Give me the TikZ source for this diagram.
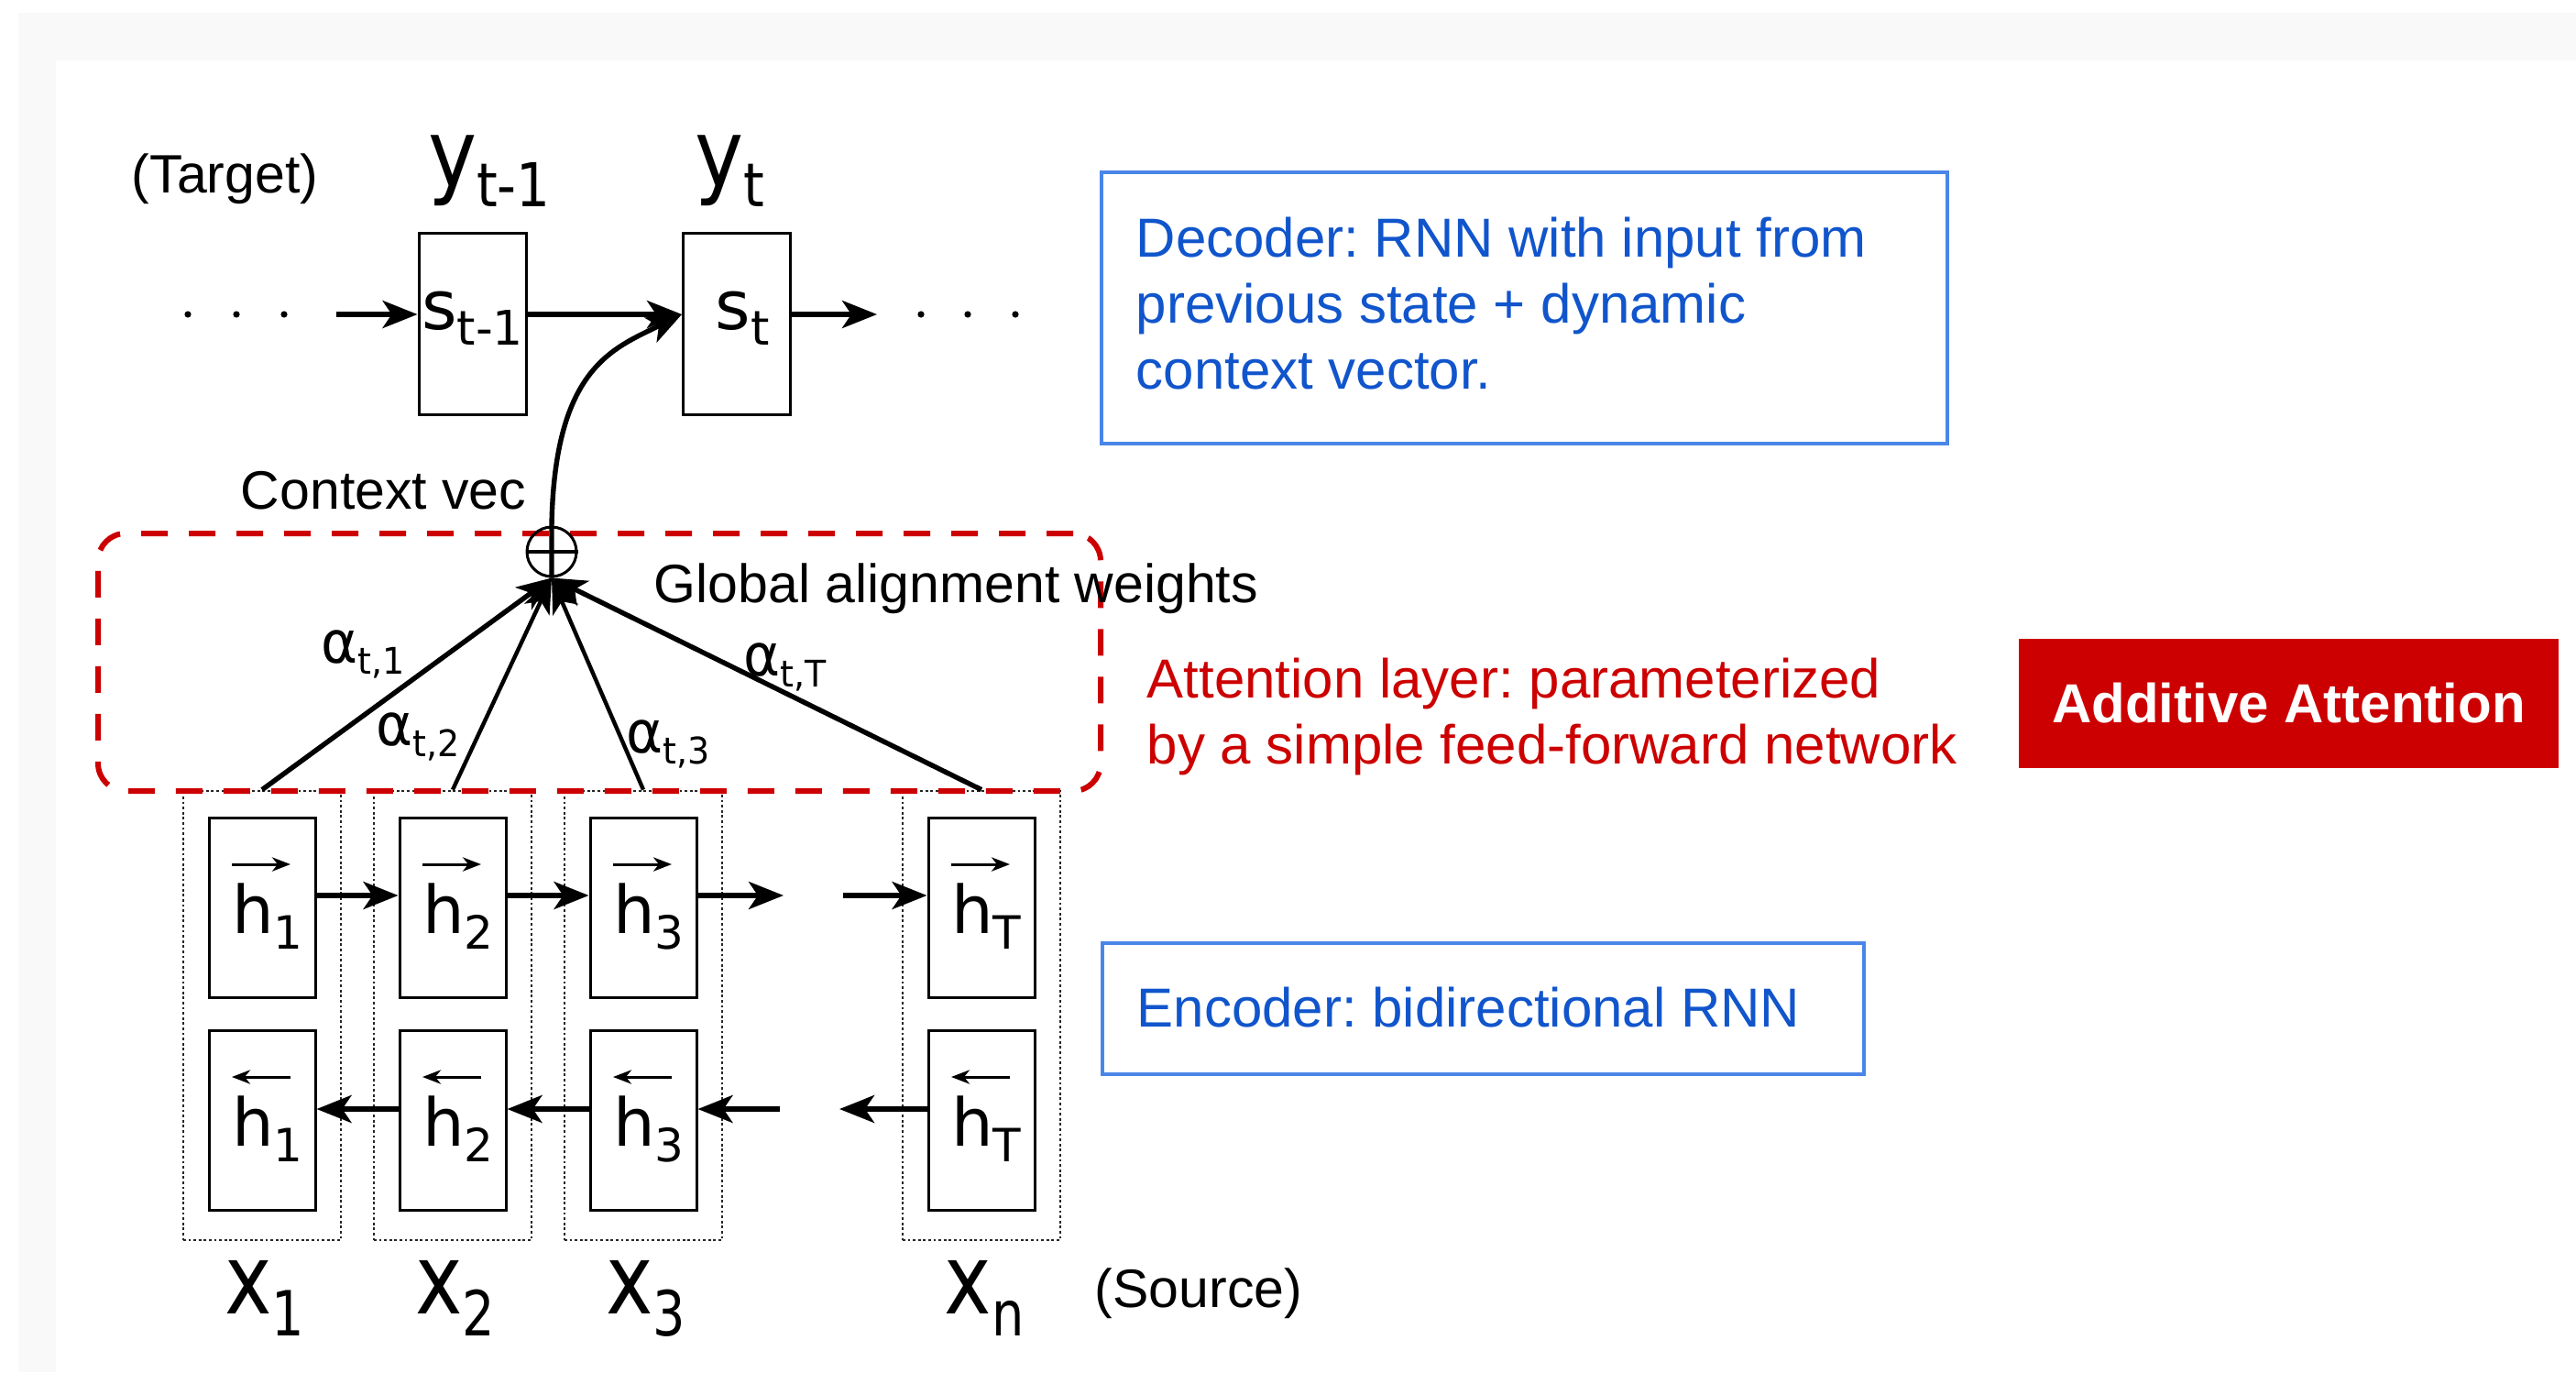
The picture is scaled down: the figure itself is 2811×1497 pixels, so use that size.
\documentclass[tikz,border=0pt]{standalone}
\usepackage{fontspec}
\usepackage{graphicx}
\setmainfont{Liberation Sans}
\newfontfamily\figfont{DejaVu Sans}
\usetikzlibrary{arrows.meta,calc}
\frenchspacing

\definecolor{pagegray}{RGB}{249,249,249}
\definecolor{noteblue}{RGB}{17,85,204}
\definecolor{boxblue}{RGB}{74,134,232}
\definecolor{attnred}{RGB}{204,0,0}

% symbol with a lowered subscript: [x-scale] size, sub size, drop, symbol, subscript
\newcommand{\glab}[6][1]{\scalebox{#1}[1]{\figfont\fontsize{#2}{#2}\selectfont #5\raisebox{-#4}{\fontsize{#3}{#3}\selectfont #6}}}

\begin{document}
\begin{tikzpicture}[x=0.25pt,y=-0.25pt,
  cell/.style={draw, line width=0.75pt, minimum width=29pt, minimum height=49pt, inner sep=0},
  column/.style={draw=black!85, line width=0.7pt, dash pattern=on 0.7pt off 0.7pt,
                 minimum width=43pt, minimum height=122.5pt, inner sep=0},
  arr/.style={line width=1.35pt, -{Stealth[length=9.5pt,width=7.5pt,inset=2.5pt]}},
  vecarr/.style={line width=0.75pt, -{Stealth[length=5pt,width=3.8pt,inset=1.5pt]}},
  lbl/.style={inner sep=0, font=\fontsize{14.75pt}{17pt}\selectfont},
  note/.style={inner sep=0, align=left, font=\fontsize{15pt}{18pt}\selectfont},
  notebox/.style={draw=boxblue, line width=0.8pt, inner sep=0},
  attnbox/.style={draw=attnred, line width=1.5pt, dash pattern=on 7.25pt off 5.75pt,
                  rounded corners=7.5pt, inner sep=0}
]
% page frame
\useasboundingbox (0,0) rectangle (2811,1497);
\fill[white] (0,0) rectangle (2811,1497);
\fill[pagegray] (20,14) rectangle (2811,1497);
\fill[white] (61,66) rectangle (2811,1497);

% row levels
\coordinate (decrow) at (0,343);
\coordinate (fwdrow) at (0,977);
\coordinate (bwdrow) at (0,1210);

% ---------- decoder ----------
\node[lbl, anchor=base west] (target) at (143,211) {(Target)};
\node[anchor=base, inner sep=0] (yPrev) at (534,204) {\glab[0.88]{25.5pt}{16.5pt}{5.5pt}{y}{t-1}};
\node[anchor=base, inner sep=0] (yCur) at (796,204) {\glab[0.88]{25.5pt}{16.5pt}{5.5pt}{y}{t}};

\node[cell, minimum width=29.25pt, minimum height=49.25pt] (sPrev) at (515.5,353.5) {};
\node[cell, minimum width=29.25pt, minimum height=49.25pt] (sCur) at (804,353.5) {};
\node[anchor=base, inner sep=0] (sPrevL) at (515.5,360) {\glab{18.5pt}{13pt}{4.25pt}{s}{t-1}};
\node[anchor=base, inner sep=0] (sCurL) at (810,360) {\glab{18.5pt}{13pt}{4.25pt}{s}{t}};

\foreach \dx in {205,258,310,1005,1056,1108}
  \fill (\dx,343) circle[radius=0.9pt];
\coordinate (decin) at (367,343);
\coordinate (decout) at (957,343);
\draw[arr] (decin) -- (sPrev.west |- decrow);
\draw[arr] (sPrev.east |- decrow) -- (sCur.west |- decrow);
\draw[arr] (sCur.east |- decrow) -- (decout);

% ---------- encoder ----------
\foreach \n/\cx/\xs in {1/286/1, 2/494/2, 3/702/3, T/1071/n} {
  \node[column] (col\n) at (\cx,1108) {};
  \node[cell] (hf\n) at (\cx,990) {};
  \node[cell] (hb\n) at (\cx,1222.5) {};
  \node[anchor=base west, inner sep=0] (hfl\n) at (\cx-33.5,1018) {\glab{18pt}{12.5pt}{4.25pt}{h}{\n}};
  \node[anchor=base west, inner sep=0] (hbl\n) at (\cx-33.5,1250) {\glab{18pt}{12.5pt}{4.25pt}{h}{\n}};
  \draw[vecarr] (\cx-33,943) -- (\cx+31,943);
  \draw[vecarr] (\cx+31,1175) -- (\cx-33,1175);
  \node[anchor=base, inner sep=0] (x\n) at (\cx+3,1433) {\glab[0.82]{26.5pt}{17pt}{6pt}{x}{\xs}};
}
\node[lbl, anchor=base west] (source) at (1194,1426) {(Source)};

\coordinate (fwdgapL) at (855,977);
\coordinate (fwdgapR) at (920,977);
\coordinate (bwdgapL) at (851,1210);
\coordinate (bwdgapR) at (916,1210);
\draw[arr] (hf1.east |- fwdrow) -- (hf2.west |- fwdrow);
\draw[arr] (hf2.east |- fwdrow) -- (hf3.west |- fwdrow);
\draw[arr] (hf3.east |- fwdrow) -- (fwdgapL);
\draw[arr] (fwdgapR) -- (hfT.west |- fwdrow);
\draw[arr] (hb2.west |- bwdrow) -- (hb1.east |- bwdrow);
\draw[arr] (hb3.west |- bwdrow) -- (hb2.east |- bwdrow);
\draw[arr] (bwdgapL) -- (hb3.east |- bwdrow);
\draw[arr] (hbT.west |- bwdrow) -- (bwdgapR);

% ---------- attention ----------
\node[attnbox, minimum width=273.5pt, minimum height=70.25pt] (attn) at (654,722.5) {};

\node[circle, draw, line width=0.75pt, minimum size=13.5pt, inner sep=0] (plus) at (602,602) {};
\draw[line width=1.1pt] (plus.west) -- (plus.east);
\draw[arr] (plus.south) -- (plus.north) .. controls (605,400) and (670,380) .. (sCur.west |- decrow);

\draw[arr] (col1.north) -- (plus.south);
\draw[arr, line width=1.1pt] (col2.north) -- (plus.south);
\draw[arr, line width=1.1pt] (col3.north) -- (plus.south);
\draw[arr] (colT.north) -- (plus.south);

\node[lbl, anchor=base west] (ctx) at (262,555) {Context vec};
\node[lbl, anchor=base west] (glob) at (713,657) {Global alignment weights};

\node[inner sep=0] (a1) at (396,714) {\glab[0.95]{16pt}{10pt}{3pt}{α}{t,1}};
\node[inner sep=0] (a2) at (456,804) {\glab[0.95]{16pt}{10pt}{3pt}{α}{t,2}};
\node[inner sep=0] (a3) at (729,812) {\glab[0.95]{16pt}{10pt}{3pt}{α}{t,3}};
\node[inner sep=0] (aT) at (857,728) {\glab[0.95]{16pt}{10pt}{3pt}{α}{t,T}};

% ---------- notes ----------
\node[notebox, minimum width=230.75pt, minimum height=74pt] (decbox) at (1663.5,336) {};
\node[note, text=noteblue, anchor=north west] (dectext) at (1239,236)
  {Decoder: RNN with input from\\previous state + dynamic\\context vector.};

\node[note, text=attnred, anchor=north west] (attntext) at (1251,717)
  {Attention layer: parameterized\\by a simple feed-forward network};

\node[fill=attnred, text=white, inner sep=0, minimum width=147.25pt, minimum height=35.25pt,
      font=\fontsize{15pt}{18pt}\selectfont\bfseries] (additive) at (2497.5,767.5) {Additive Attention};

\node[notebox, minimum width=207.75pt, minimum height=35.75pt] (encbox) at (1618.5,1100.5) {};
\node[note, text=noteblue, anchor=base west] (enctext) at (1240,1120) {Encoder: bidirectional RNN};
\end{tikzpicture}
\end{document}
